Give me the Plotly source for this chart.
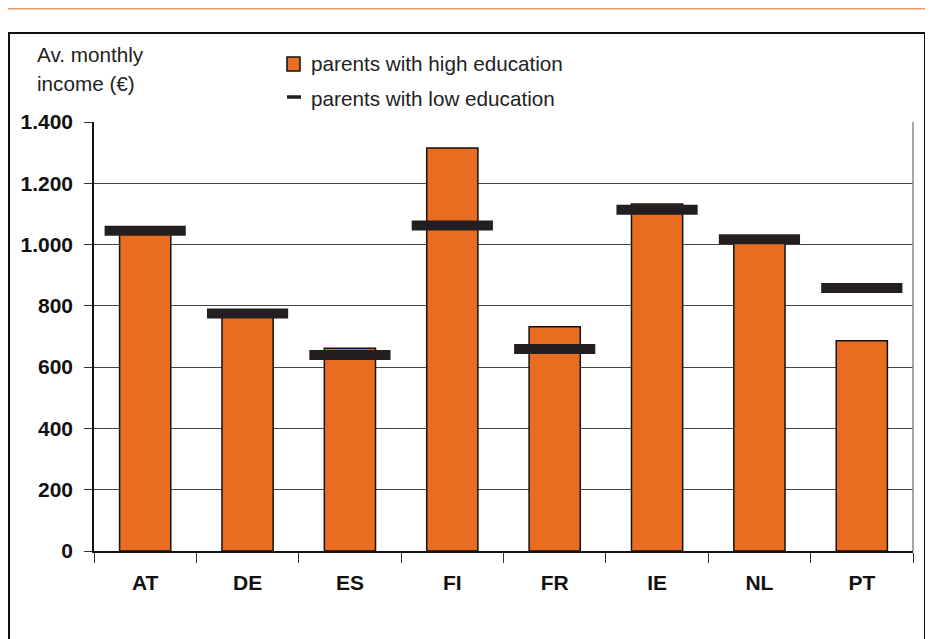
import plotly.graph_objects as go

countries = ["AT", "DE", "ES", "FI", "FR", "IE", "NL", "PT"]
high_edu = [1035, 765, 662, 1315, 732, 1132, 1008, 686]
low_edu = [1045, 775, 640, 1062, 659, 1114, 1017, 858]
y_ticks = [0, 200, 400, 600, 800, 1000, 1200, 1400]

ORANGE = "#E96D20"
DARK = "#231F20"
FONT = "Liberation Sans, Arial, sans-serif"

fig = go.Figure()
fig.add_trace(go.Bar(
    x=countries, y=high_edu, name="parents with high education",
    marker=dict(color=ORANGE, line=dict(color="#111", width=1.5)),
    width=0.5, showlegend=False,
))
fig.add_trace(go.Scatter(
    x=countries, y=low_edu, name="parents with low education", mode="markers",
    marker=dict(symbol="line-ew", size=58, line=dict(color=DARK, width=10)),
    showlegend=False,
))

# page body has an 8px margin; work in screen coordinates and subtract it
OFF = 8
W, H = 933 - OFF, 639 - OFF
L, R, T, B = 94 - OFF, 933 - 913, 122 - OFF, 639 - 551
pw, ph = W - L - R, H - T - B

def px(x):
    return (x - OFF - L) / pw

def py(y):
    return (H - B - (y - OFF)) / ph

shapes = [
    # top orange rule
    dict(type="line", xref="paper", yref="paper", x0=px(OFF), x1=px(933), y0=py(8.8), y1=py(8.8),
         line=dict(color="#EE9A66", width=1.5)),
    # outer frame
    dict(type="rect", xref="paper", yref="paper", x0=px(OFF + 1), x1=px(925), y0=py(660), y1=py(33),
         line=dict(color="#111", width=2)),
    # plot area right border
    dict(type="line", xref="paper", yref="paper", x0=1, x1=1, y0=0, y1=1,
         line=dict(color="#888", width=1.5)),
    # legend glyphs
    dict(type="rect", xref="paper", yref="paper", x0=px(287), x1=px(300), y0=py(71), y1=py(57),
         fillcolor=ORANGE, line=dict(color="#111", width=1.5)),
    dict(type="line", xref="paper", yref="paper", x0=px(287), x1=px(301), y0=py(97), y1=py(97),
         line=dict(color=DARK, width=3.5)),
]

ann_font = dict(size=20.7, color="#222", family=FONT)
annotations = [
    dict(text="Av. monthly", x=px(35), y=py(54), xref="paper", yref="paper",
         xanchor="left", yanchor="middle", showarrow=False, font=ann_font),
    dict(text="income (€)", x=px(35), y=py(84), xref="paper", yref="paper",
         xanchor="left", yanchor="middle", showarrow=False, font=ann_font),
    dict(text="parents with high education", x=px(309), y=py(64), xref="paper", yref="paper",
         xanchor="left", yanchor="middle", showarrow=False, font=ann_font),
    dict(text="parents with low education", x=px(309), y=py(99), xref="paper", yref="paper",
         xanchor="left", yanchor="middle", showarrow=False, font=ann_font),
]

fig.update_layout(
    width=W, height=H,
    margin=dict(l=L, r=R, t=T, b=B, pad=0),
    plot_bgcolor="white", paper_bgcolor="white",
    separators=",.",
    shapes=shapes, annotations=annotations,
    font=dict(family=FONT, color="#111"),
    xaxis=dict(
        type="category", tickson="boundaries", ticks="outside", ticklen=10,
        tickcolor="#333", tickwidth=1, showgrid=False,
        showline=True, linecolor="#111", linewidth=1.5,
        tickfont=dict(size=21, family=FONT, color="#111", weight="bold"),
        ticklabelstandoff=12, range=[-0.5, 7.5],
    ),
    yaxis=dict(
        range=[0, 1400], tickvals=y_ticks, tickformat=",d",
        ticks="outside", ticklen=8, tickcolor="#333", tickwidth=1,
        showgrid=True, gridcolor="#444", gridwidth=1,
        showline=True, linecolor="#111", linewidth=1.5, zeroline=False,
        tickfont=dict(size=21, family=FONT, color="#111", weight="bold"),
        ticklabelstandoff=7,
    ),
)

fig.write_html("out.html")
